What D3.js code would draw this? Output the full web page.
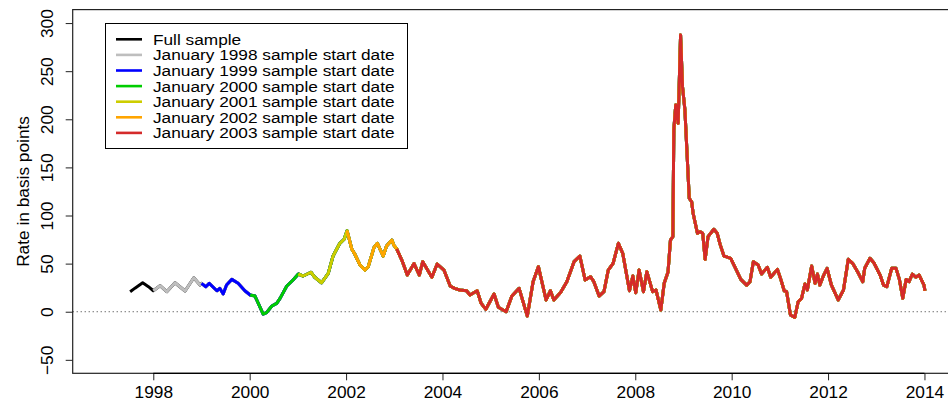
<!DOCTYPE html>
<html>
<head>
<meta charset="utf-8">
<script src="https://cdn.jsdelivr.net/npm/d3@7"></script>
<style>
  body { margin: 0; background: #fff; }
  svg { display: block; font-family: "Liberation Sans", Arial, sans-serif; }
</style>
</head>
<body>
<div id="chart"></div>
<script>
/**
 * Data: observation dates (decimal years) and rate in basis points
 */
var dates = [
  1997.52, 1997.62, 1997.78, 1997.90, 1998.00, 1998.14, 1998.28, 1998.45, 1998.66, 1998.84,
  1998.97, 1999.00, 1999.09, 1999.16, 1999.32, 1999.38, 1999.45, 1999.52, 1999.63, 1999.76,
  1999.90, 2000.01, 2000.11, 2000.28, 2000.35, 2000.46, 2000.56, 2000.63, 2000.77, 2000.90,
  2001.01, 2001.11, 2001.27, 2001.35, 2001.49, 2001.63, 2001.73, 2001.87, 2001.96, 2002.02,
  2002.12, 2002.18, 2002.29, 2002.39, 2002.46, 2002.58, 2002.65, 2002.77, 2002.84, 2002.95,
  2002.99, 2003.05, 2003.17, 2003.27, 2003.41, 2003.52, 2003.59, 2003.78, 2003.89, 2004.03,
  2004.16, 2004.25, 2004.36, 2004.50, 2004.57, 2004.72, 2004.80, 2004.90, 2005.07, 2005.16,
  2005.32, 2005.44, 2005.59, 2005.76, 2005.88, 2005.99, 2006.15, 2006.24, 2006.31, 2006.45,
  2006.58, 2006.73, 2006.85, 2006.96, 2007.07, 2007.14, 2007.25, 2007.35, 2007.44, 2007.54,
  2007.65, 2007.74, 2007.88, 2007.95, 2008.01, 2008.08, 2008.17, 2008.24, 2008.36, 2008.43,
  2008.53, 2008.60, 2008.68, 2008.73, 2008.78, 2008.80, 2008.84, 2008.89, 2008.94, 2008.98,
  2009.03, 2009.12, 2009.17, 2009.20, 2009.29, 2009.34, 2009.40, 2009.45, 2009.51, 2009.63,
  2009.70, 2009.76, 2009.84, 2009.88, 2009.98, 2010.09, 2010.19, 2010.31, 2010.38, 2010.45,
  2010.55, 2010.62, 2010.74, 2010.81, 2010.95, 2011.02, 2011.09, 2011.14, 2011.22, 2011.31,
  2011.38, 2011.45, 2011.52, 2011.57, 2011.66, 2011.73, 2011.78, 2011.83, 2011.91, 2011.98,
  2012.07, 2012.21, 2012.32, 2012.42, 2012.51, 2012.63, 2012.72, 2012.76, 2012.87, 2012.95,
  2013.08, 2013.15, 2013.22, 2013.32, 2013.41, 2013.48, 2013.55, 2013.62, 2013.68, 2013.75,
  2013.82, 2013.89, 2013.99, 2014.01
];
var rate = [
  20.8, 24.5, 30.1, 26.0, 21.8, 27.0, 20.8, 30.1, 21.5, 35.3,
  27.7, 29.5, 26.0, 29.5, 21.8, 24.3, 18.4, 27.7, 33.6, 29.5,
  21.8, 17.4, 16.3, -2.4, -1.0, 5.9, 8.7, 13.9, 26.7, 33.0,
  39.2, 37.1, 41.0, 35.8, 30.1, 39.9, 57.9, 71.1, 75.3, 84.2,
  64.9, 60.0, 48.5, 43.3, 46.8, 66.9, 71.1, 57.9, 68.3, 74.5,
  69.3, 65.4, 52.0, 38.1, 50.0, 38.1, 52.0, 35.8, 49.6, 43.3,
  26.7, 24.3, 22.6, 21.8, 17.4, 21.8, 9.0, 2.5, 18.4, 4.6,
  0.0, 16.3, 24.3, -4.5, 31.2, 46.8, 12.2, 21.8, 12.2, 20.0,
  31.2, 52.0, 57.9, 33.0, 36.4, 31.2, 16.3, 20.8, 43.3, 50.3,
  71.1, 60.7, 21.8, 37.1, 19.8, 43.3, 20.8, 41.6, 20.8, 22.6,
  1.8, 29.5, 41.3, 74.5, 78.0, 188.9, 214.9, 195.8, 287.6, 233.9,
  209.7, 117.9, 114.3, 102.3, 81.5, 83.2, 81.5, 54.5, 78.0, 85.7,
  81.5, 70.0, 57.9, 57.2, 55.5, 44.0, 33.6, 27.7, 31.2, 52.0,
  48.5, 39.2, 46.2, 35.8, 44.0, 33.6, 21.8, 20.8, -3.4, -5.8,
  10.4, 13.9, 28.8, 22.6, 47.5, 29.5, 39.2, 27.7, 38.1, 45.1,
  27.7, 12.2, 22.6, 54.5, 50.3, 39.9, 31.2, 45.1, 55.5, 50.9,
  38.1, 27.7, 26.0, 45.1, 45.1, 33.6, 13.9, 33.6, 31.2, 39.2,
  35.8, 38.1, 27.7, 21.8
];

/**
 * Series: label, colour and sample start date
 */
var seriesLabels = [
  "Full sample",
  "January 1998 sample start date",
  "January 1999 sample start date",
  "January 2000 sample start date",
  "January 2001 sample start date",
  "January 2002 sample start date",
  "January 2003 sample start date"
];
var seriesColors = ["#000000", "#bebebe", "#0000ff", "#00cd00", "#cdcd00", "#ffa500", "#d42a2a"];
var seriesStart = [1997.5, 1998.0, 1999.0, 2000.0, 2001.0, 2002.0, 2003.0];

var xTicks = [1998, 2000, 2002, 2004, 2006, 2008, 2010, 2012, 2014];
var yTicks = [-50, 0, 50, 100, 150, 200, 250, 300];

/**
 * Settings
 */
var W = 948, H = 404;
var margin = {top: 9.6, right: -2, bottom: 30.7, left: 72.7};
var width = W - margin.left - margin.right,
  height = H - margin.top - margin.bottom;
var fontSize = "17.3px";

var x = d3.scaleLinear().domain([1996.328, 2014.53]).range([0, width]);
var y = d3.scaleLinear().domain([-64, 314]).range([height, 0]);

var svg = d3.select("#chart").append("svg")
  .attr("width", W)
  .attr("height", H);

var g = svg.append("g")
  .attr("transform", "translate(" + margin.left + "," + margin.top + ")");

g.append("clipPath").attr("id", "clip")
  .append("rect").attr("width", width).attr("height", height);

// zero line
g.append("line")
  .attr("x1", 0).attr("x2", width)
  .attr("y1", y(0)).attr("y2", y(0))
  .attr("stroke", "#333")
  .attr("stroke-width", 1)
  .attr("stroke-dasharray", "1,3");

// Build series points
var points = dates.map(function (d, i) { return {t: d, v: rate[i]}; });

var line = d3.line()
  .x(function (d) { return x(d.t); })
  .y(function (d) { return y(d.v); });

var lines = g.append("g").attr("clip-path", "url(#clip)");
seriesLabels.forEach(function (lab, i) {
  var pts = points.filter(function (p) { return p.t >= seriesStart[i] - 0.005; });
  lines.append("path")
    .datum(pts)
    .attr("fill", "none")
    .attr("stroke", seriesColors[i])
    .attr("stroke-width", 3)
    .attr("stroke-linejoin", "round")
    .attr("d", line);
});

// Box
g.append("rect")
  .attr("x", 0).attr("y", 0)
  .attr("width", width).attr("height", height)
  .attr("fill", "none")
  .attr("stroke", "#222")
  .attr("stroke-width", 1.2);

// Axes
var xAxis = g.append("g")
  .attr("transform", "translate(0," + height + ")")
  .call(d3.axisBottom(x).tickValues(xTicks).tickFormat(d3.format("d")).tickSize(7).tickPadding(5));
xAxis.select(".domain").remove();
xAxis.append("line")
  .attr("x1", x(xTicks[0])).attr("x2", x(xTicks[xTicks.length - 1]))
  .attr("stroke", "#000").attr("stroke-width", 1.2);
xAxis.selectAll(".tick line").attr("stroke", "#222");
xAxis.selectAll(".tick text")
  .attr("font-size", fontSize)
  .attr("font-family", "Liberation Sans, Arial, sans-serif")
  .attr("fill", "#000");

var yAxis = g.append("g")
  .call(d3.axisLeft(y).tickValues(yTicks).tickFormat(function (d) { return d < 0 ? "\u2212" + Math.abs(d) : d; }).tickSize(7));
yAxis.select(".domain").remove();
yAxis.selectAll(".tick line").attr("stroke", "#222");
yAxis.selectAll(".tick text")
  .attr("x", null).attr("dy", null)
  .attr("transform", "translate(-20,0) rotate(-90)")
  .attr("text-anchor", "middle")
  .attr("font-size", fontSize)
  .attr("font-family", "Liberation Sans, Arial, sans-serif")
  .attr("fill", "#000");

// Axis title
svg.append("text")
  .attr("transform", "translate(29," + (margin.top + height / 2) + ") rotate(-90)")
  .attr("text-anchor", "middle")
  .attr("font-size", fontSize)
  .text("Rate in basis points");

// Legend
var legend = svg.append("g");
legend.append("rect")
  .attr("x", 105.5).attr("y", 23.5)
  .attr("width", 302).attr("height", 125)
  .attr("fill", "#fff")
  .attr("stroke", "#000")
  .attr("stroke-width", 1);
seriesLabels.forEach(function (lab, i) {
  var cy = 39.3 + i * 15.6;
  legend.append("line")
    .attr("x1", 116).attr("x2", 142)
    .attr("y1", cy).attr("y2", cy)
    .attr("stroke", seriesColors[i])
    .attr("stroke-width", 2.6);
  // rows are tighter than the glyphs are tall, so stretch a smaller font sideways
  legend.append("g")
    .attr("transform", "translate(153," + cy + ") scale(1.12,1)")
    .append("text")
    .attr("dy", "0.35em")
    .attr("font-size", "15.4px")
    .text(lab);
});
</script>
</body>
</html>
